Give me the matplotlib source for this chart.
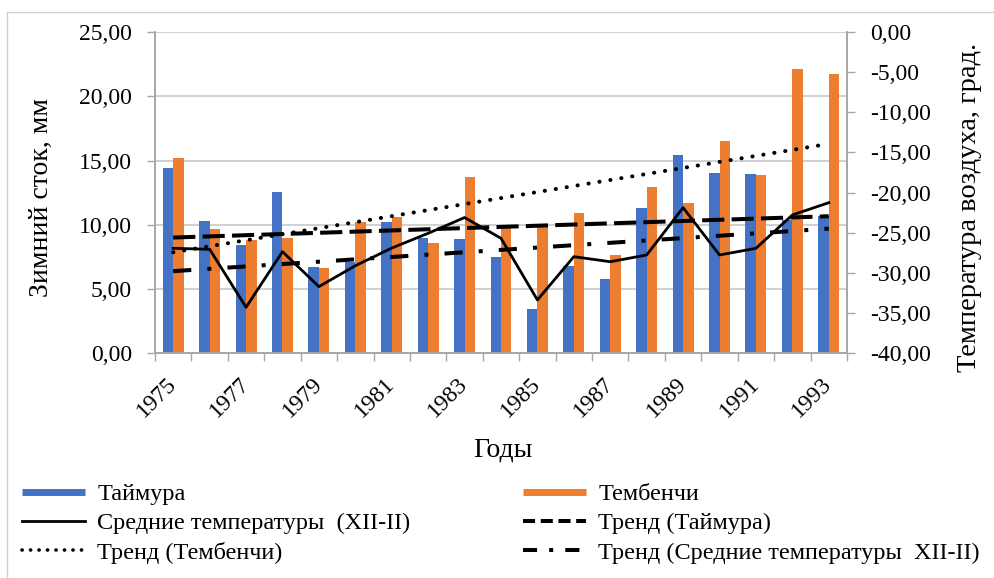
import numpy as np
import matplotlib
matplotlib.use('Agg')
import matplotlib.pyplot as plt
from matplotlib.lines import Line2D


W, H = 995, 578
DPI = 100

BLUE = '#4472C4'
ORANGE = '#ED7D31'
GRID = '#c8c8c8'
AXIS = '#a6a6a6'

years = list(range(1975, 1994))
# winter runoff, mm
taimura = [14.45, 10.30, 8.39, 12.56, 6.68, 7.10, 10.23, 8.98, 8.88, 7.46,
           3.42, 6.78, 5.75, 11.34, 15.41, 14.06, 13.98, 10.40, 10.70]
tembenchi = [15.23, 9.71, 8.80, 8.98, 6.60, 10.18, 10.57, 8.60, 13.72, 9.89,
             9.79, 10.88, 7.64, 12.95, 11.70, 16.52, 13.88, 22.12, 21.75]
# mean air temperature XII-II, deg
temp_mean = [-26.93, -27.05, -34.27, -27.35, -31.70, -29.10, -26.90, -25.06,
             -23.10, -25.68, -33.36, -27.97, -28.60, -27.76, -21.87, -27.76,
             -26.93, -22.78, -21.25]

left_ticks = [0, 5, 10, 15, 20, 25]
right_ticks = [-40, -35, -30, -25, -20, -15, -10, -5, 0]

LABELS = {
    'taimura': 'Таймура',
    'tembenchi': 'Тембенчи',
    'temp': 'Средние температуры  (XII-II)',
    'tr_taimura': 'Тренд (Таймура)',
    'tr_tembenchi': 'Тренд (Тембенчи)',
    'tr_temp': 'Тренд (Средние температуры  XII-II)',
}


def fmt(v):
    return '{:.2f}'.format(v).replace('.', ',')


def trend(values):
    x = np.arange(len(values))
    coef = np.polyfit(x, values, 1)
    return np.polyval(coef, x)


def run():
    plt.rcParams['font.family'] = 'Liberation Serif'
    fig = plt.figure(figsize=(W / DPI, H / DPI), dpi=DPI)
    ax = fig.add_axes([155 / W, 1 - 353.3 / H, 692 / W, 321.3 / H])
    ax2 = ax.twinx()

    x = np.arange(len(years))
    bw = 0.288
    ax.bar(x - bw / 2, taimura, bw, color=BLUE, zorder=2)
    ax.bar(x + bw / 2, tembenchi, bw, color=ORANGE, zorder=2)

    lw_tr = 2.9
    ax.plot(x, trend(taimura), color='black', lw=lw_tr,
            dashes=(5.5, 1.8), dash_capstyle='butt', zorder=3)
    ax.plot(x, trend(tembenchi), color='black', lw=lw_tr,
            dashes=(0.05, 2.7), dash_capstyle='round', zorder=3)
    ax2.plot(x, temp_mean, color='black', lw=2.0, zorder=3)
    ax2.plot(x, trend(temp_mean), color='black', lw=lw_tr,
             dashes=(4.5, 4.0, 1.0, 4.0), dash_capstyle='butt', zorder=3)

    ax.set_xlim(-0.5, len(years) - 0.5)
    ax.set_ylim(0, 25)
    ax2.set_ylim(-40, 0)

    ax.set_yticks(left_ticks)
    ax.set_yticklabels([fmt(v) for v in left_ticks])
    ax2.set_yticks(right_ticks)
    ax2.set_yticklabels([fmt(v) for v in right_ticks])
    ax.grid(axis='y', color=GRID, lw=1.2, zorder=0)
    ax.set_axisbelow(True)

    edges = np.arange(len(years) + 1) - 0.5
    ax.set_xticks(edges)
    ax.set_xticklabels([''] * len(edges))
    odd = [i for i, y in enumerate(years) if y % 2 == 1]
    ax.set_xticks(odd, minor=True)
    ax.set_xticklabels([str(years[i]) for i in odd], minor=True, rotation=45,
                       ha='right', va='center', rotation_mode='anchor')

    ax.tick_params(axis='x', which='major', length=6, color=AXIS, width=1)
    ax.tick_params(axis='x', which='minor', length=0, pad=20, labelsize=17)
    ax.tick_params(axis='y', length=6, color=AXIS, width=1, pad=10.5, labelsize=17)
    ax2.tick_params(axis='y', length=6, color=AXIS, width=1, pad=11, labelsize=17)

    for a in (ax, ax2):
        a.spines['top'].set_visible(False)
        for s in ('left', 'right', 'bottom'):
            a.spines[s].set_color(AXIS)
            a.spines[s].set_linewidth(1.2)

    fig.text(41 / W, 1 - 198 / H, 'Зимний сток, мм', rotation=90,
             ha='center', va='center', fontsize=20)
    fig.text(970 / W, 1 - 207 / H, 'Температура воздуха, град.', rotation=90,
             ha='center', va='center', fontsize=20.5)
    fig.text(503 / W, 1 - 450 / H, 'Годы', ha='center', va='center', fontsize=20)

    def bar_handle(c):
        return Line2D([], [], color=c, lw=5, solid_capstyle='butt')

    h_left = [
        bar_handle(BLUE),
        Line2D([], [], color='black', lw=2.0),
        Line2D([], [], color='black', lw=2.6, dashes=(0.05, 2.3),
               dash_capstyle='round'),
    ]
    l_left = [LABELS['taimura'], LABELS['temp'], LABELS['tr_tembenchi']]
    h_right = [
        bar_handle(ORANGE),
        Line2D([], [], color='black', lw=2.9, dashes=(3.0, 1.4),
               dash_capstyle='butt'),
        Line2D([], [], color='black', lw=2.9, dashes=(3.5, 3.0, 1.0, 3.0),
               dash_capstyle='butt'),
    ]
    l_right = [LABELS['tembenchi'], LABELS['tr_taimura'], LABELS['tr_temp']]

    common = dict(loc='upper left', frameon=False, borderpad=0,
                  borderaxespad=0, handlelength=2.6, handletextpad=0.5,
                  labelspacing=0.3, fontsize=17.5,
                  bbox_transform=fig.transFigure)
    fig.legend(h_left, l_left, bbox_to_anchor=(22 / W, 1 - 483 / H), **common)
    fig.legend(h_right, l_right, bbox_to_anchor=(523 / W, 1 - 483 / H), **common)

    # chart area border
    fig.add_artist(Line2D([7 / W, 7 / W], [0, 1 - 12 / H],
                          transform=fig.transFigure, color='#d0d0d0', lw=1))
    fig.add_artist(Line2D([7 / W, 1], [1 - 12 / H, 1 - 12 / H],
                          transform=fig.transFigure, color='#d0d0d0', lw=1))

    fig.savefig('out.png', dpi=DPI)


if __name__ == '__main__':
    run()
